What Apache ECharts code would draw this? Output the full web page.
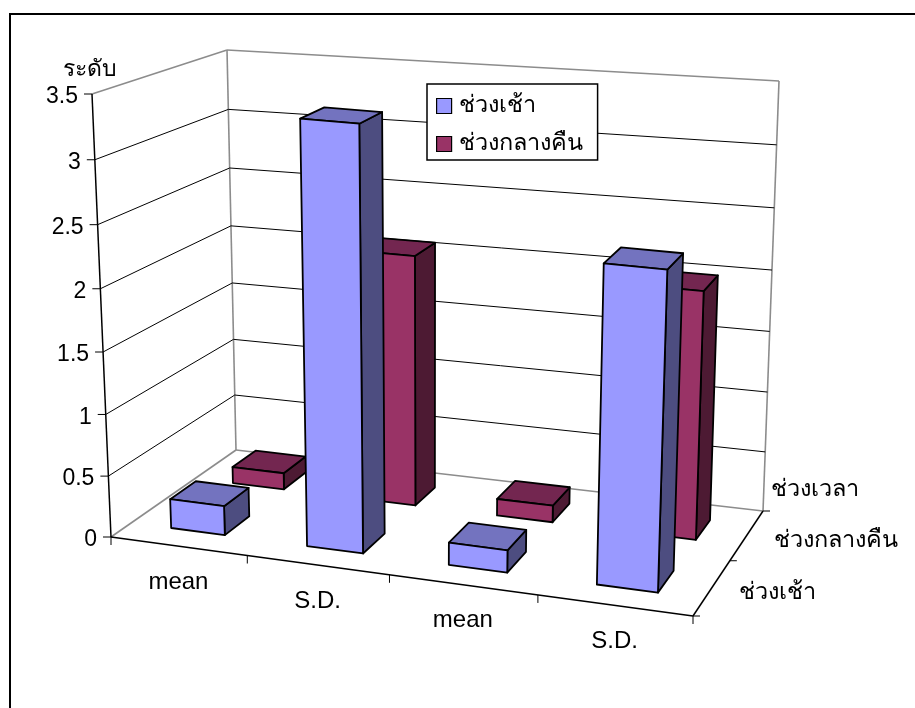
<!DOCTYPE html>
<html>
<head>
<meta charset="utf-8">
<script src="https://cdn.jsdelivr.net/npm/echarts@6/dist/echarts.min.js"></script>
<style>
html, body { margin: 0; padding: 0; background: #fff; }
#chart { width: 915px; height: 708px; }
</style>
</head>
<body>
<div id="chart"></div>
<script>
const categories = ['mean', 'S.D.', 'mean', 'S.D.']
const morningValues = [0.24, 3.38, 0.18, 2.5]
const nightValues = [0.14, 2.09, 0.14, 2.02]
const valueTicks = [0, 0.5, 1, 1.5, 2, 2.5, 3, 3.5]
const seriesNames = ['ช่วงเช้า', 'ช่วงกลางคืน']
const axisNames = { value: 'ระดับ', depth: 'ช่วงเวลา' }

const FONT = '"Liberation Sans", Arial, sans-serif'
const GRID_W = 400
const GRID_H = 350

// corners of the chart box as seen on screen
const box = {
  fl: [111, 537], fr: [693, 616], br: [763, 511], bl: [236, 450],
  flt: [92, 94], frt: [709, 150], brt: [779, 81], blt: [227, 50]
}

// slight perspective on each direction
function warp (t, a) {
  return t / (t + (1 - t) * a)
}

function lerp (p, q, t) {
  return [p[0] + (q[0] - p[0]) * t, p[1] + (q[1] - p[1]) * t]
}

// x in categories, y in axis units, depth 0..1 (front to back)
function project (api, x, y, depth) {
  const px = api.coord([x, y])
  const u = warp(px[0] / GRID_W, 1.09)
  const v = warp(1 - px[1] / GRID_H, 1.046)
  const w = warp(depth, 0.9)
  const bottom = lerp(lerp(box.fl, box.fr, u), lerp(box.bl, box.br, u), w)
  const top = lerp(lerp(box.flt, box.frt, u), lerp(box.blt, box.brt, u), w)
  return lerp(bottom, top, v)
}

function line (p, q, color, width) {
  return {
    type: 'line',
    shape: { x1: p[0], y1: p[1], x2: q[0], y2: q[1] },
    style: { stroke: color, lineWidth: width }
  }
}

function label (text, x, y, align, size) {
  return {
    type: 'text',
    style: {
      text: text, x: x, y: y, fill: '#000',
      font: (size || 23) + 'px ' + FONT,
      align: align || 'center', verticalAlign: 'middle'
    }
  }
}

function renderFrame (params, api) {
  const GREY = '#8c8c8c'
  const n = categories.length
  const top = valueTicks[valueTicks.length - 1]
  const children = []
  const at = (x, y, d) => project(api, x, y, d)

  // walls, floor edges
  children.push(line(at(0, 0, 0), at(0, 0, 1), GREY, 1.6))
  children.push(line(at(0, 0, 1), at(n, 0, 1), GREY, 1.6))
  children.push(line(at(0, 0, 1), at(0, top, 1), GREY, 1.6))
  children.push(line(at(n, 0, 1), at(n, top, 1), GREY, 1.6))
  children.push(line(at(0, top, 0), at(0, top, 1), GREY, 1.6))
  children.push(line(at(0, top, 1), at(n, top, 1), GREY, 1.6))

  // gridlines and value axis
  valueTicks.forEach(function (t) {
    const a = at(0, t, 0)
    if (t > 0 && t < top) {
      children.push(line(a, at(0, t, 1), '#000', 1))
      children.push(line(at(0, t, 1), at(n, t, 1), '#000', 1))
    }
    children.push(line(a, [a[0] - 8, a[1]], '#000', 1))
    children.push(label(String(t), a[0] - 14, a[1] + 3, 'right'))
  })
  children.push(line(at(0, 0, 0), at(0, top, 0), '#000', 1.5))
  children.push(label(axisNames.value, 90, 70, 'center'))

  // category axis
  children.push(line(at(0, 0, 0), at(n, 0, 0), '#000', 1.5))
  categories.forEach(function (c, i) {
    const p = at(i + 0.5, 0, 0)
    children.push(label(c, p[0], p[1] + 36, 'center', 24))
  })
  for (let i = 0; i <= n; i++) {
    const p = at(i, 0, 0)
    children.push(line(p, [p[0], p[1] + 8], '#000', 1))
  }

  // depth axis
  children.push(line(at(n, 0, 0), at(n, 0, 1), '#000', 1.5))
  for (let i = 0; i <= seriesNames.length; i++) {
    const p = at(n, 0, i / seriesNames.length)
    children.push(line(p, [p[0] + 7, p[1]], '#000', 1))
  }
  seriesNames.forEach(function (s, i) {
    const p = at(n, 0, (i + 0.5) / seriesNames.length)
    children.push(label(s, p[0] + 27, p[1] + 5, 'left', 23.5))
  })
  const b = at(n, 0, 1)
  children.push(label(axisNames.depth, b[0] + 8, b[1] - 21, 'left', 23.5))

  return { type: 'group', children: children }
}

function barRenderer (depthFrom, depthTo, faces) {
  return function (params, api) {
    const i = api.value(0)
    const val = api.value(1)
    const x0 = i + 0.3
    const x1 = i + 0.7
    const a = project(api, x0, val, depthFrom)
    const b = project(api, x1, val, depthFrom)
    const c = project(api, x1, 0, depthFrom)
    const d = project(api, x0, 0, depthFrom)
    const e = project(api, x0, val, depthTo)
    const f = project(api, x1, val, depthTo)
    const g = project(api, x1, 0, depthTo)
    const stroke = { stroke: '#000', lineWidth: 1.8, lineJoin: 'round' }
    const face = function (pts, color) {
      return { type: 'polygon', shape: { points: pts }, style: Object.assign({ fill: color }, stroke) }
    }
    return {
      type: 'group',
      children: [
        face([b, f, g, c], faces.side),
        face([a, e, f, b], faces.top),
        face([a, b, c, d], faces.front)
      ]
    }
  }
}

const myChart = echarts.init(document.getElementById('chart'), null, { renderer: 'canvas' })

myChart.setOption({
  animation: false,
  backgroundColor: '#fff',
  grid: { left: 0, top: 0, width: GRID_W, height: GRID_H, show: false },
  xAxis: { type: 'value', min: 0, max: categories.length, show: false },
  yAxis: { type: 'value', min: 0, max: 3.5, show: false },
  // the chart border runs off the page on the right and at the bottom
  graphic: [{
    type: 'polyline',
    shape: { points: [[10, 708], [10, 14], [915, 14]] },
    style: { fill: 'none', stroke: '#000', lineWidth: 2 },
    silent: true
  }],
  legend: {
    left: 427,
    top: 84,
    orient: 'vertical',
    padding: [10, 15, 4, 9],
    itemGap: 14,
    itemWidth: 15,
    itemHeight: 15,
    backgroundColor: '#fff',
    borderColor: '#000',
    borderWidth: 1.5,
    borderRadius: 0,
    selectedMode: false,
    textStyle: { fontFamily: FONT, fontSize: 23.5, lineHeight: 23, color: '#000', padding: [0, 0, 0, 2] },
    data: [
      { name: seriesNames[0], icon: 'rect', itemStyle: { color: '#9999ff', borderColor: '#000', borderWidth: 1.2 } },
      { name: seriesNames[1], icon: 'rect', itemStyle: { color: '#993366', borderColor: '#000', borderWidth: 1.2 } }
    ]
  },
  series: [
    {
      type: 'custom',
      name: 'frame',
      silent: true,
      z: 1,
      data: [[0, 0]],
      renderItem: renderFrame
    },
    {
      type: 'custom',
      name: seriesNames[1],
      silent: true,
      z: 2,
      itemStyle: { color: '#993366' },
      data: nightValues.map((v, i) => [i, v]),
      encode: { x: 0, y: 1 },
      renderItem: barRenderer(0.65, 0.85, { front: '#993366', top: '#732650', side: '#4d1a33' })
    },
    {
      type: 'custom',
      name: seriesNames[0],
      silent: true,
      z: 3,
      itemStyle: { color: '#9999ff' },
      data: morningValues.map((v, i) => [i, v]),
      encode: { x: 0, y: 1 },
      renderItem: barRenderer(0.15, 0.35, { front: '#9999ff', top: '#7373bf', side: '#4d4d80' })
    }
  ]
})
</script>
</body>
</html>
